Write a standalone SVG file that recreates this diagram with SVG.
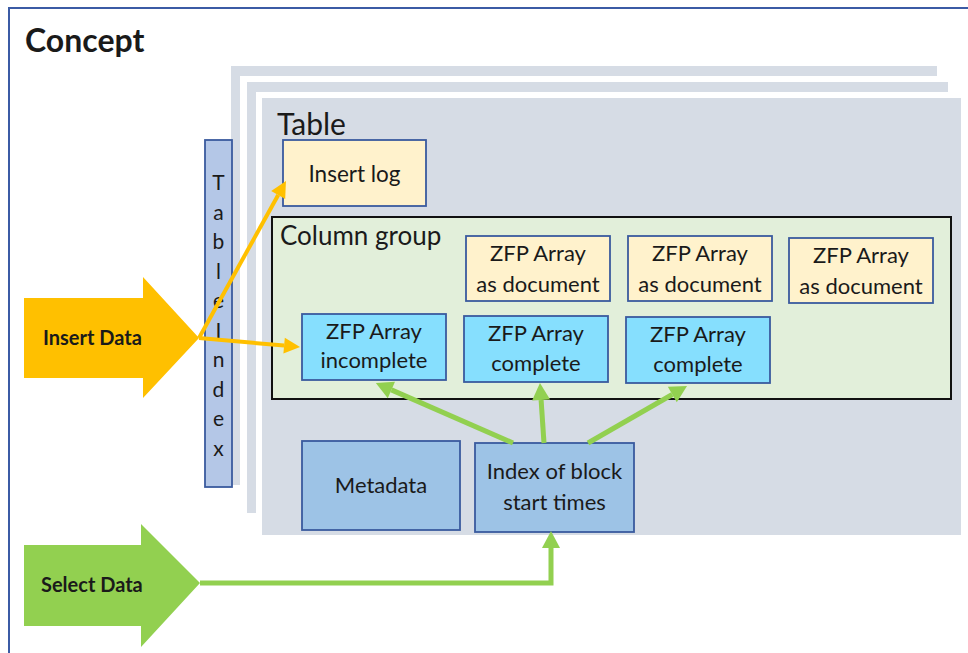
<svg xmlns="http://www.w3.org/2000/svg" width="968" height="653" viewBox="0 0 968 653">
<style>
  text { font-family: Lato, "Liberation Sans", sans-serif; fill: #1a1a1a; }
  .t22 { font-size: 22px; }
  .mid { text-anchor: middle; }
  .box { stroke: #3A5A9E; stroke-width: 1.8; }
  .yel { fill: #FFF2CC; }
  .cyan { fill: #86DFFE; }
  .blu { fill: #9DC3E6; }
  .layer { fill: #D6DCE5; }
  .orange { stroke: #FFC000; stroke-width: 4; fill: none; }
  .green { stroke: #92D050; stroke-width: 5; fill: none; }
</style>
<defs>
  <marker id="ao" markerUnits="userSpaceOnUse" markerWidth="16" markerHeight="16" refX="0" refY="8" orient="auto" overflow="visible">
    <path d="M0,0 L16,8 L0,16 z" fill="#FFC000"/>
  </marker>
  <marker id="ag" markerUnits="userSpaceOnUse" markerWidth="17" markerHeight="18" refX="0" refY="9" orient="auto" overflow="visible">
    <path d="M0,0 L17,9 L0,18 z" fill="#92D050"/>
  </marker>
</defs>
<rect width="968" height="653" fill="#FFFFFF"/>
<rect x="9" y="8" width="975" height="665" fill="none" stroke="#3B5BA5" stroke-width="2"/>
<text x="25" y="52" font-size="32" font-weight="bold">Concept</text>

<g id="table-stack">
  <rect class="layer" x="231" y="66" width="706" height="419"/>
  <rect x="240" y="76" width="720" height="445" fill="#FFFFFF"/>
  <rect class="layer" x="247" y="82" width="701" height="431"/>
  <rect x="256" y="92" width="710" height="450" fill="#FFFFFF"/>
  <rect class="layer" x="262" y="98" width="699" height="437"/>
  <text x="277" y="135" font-size="30">Table</text>
</g>

<g id="table-index">
  <rect x="205" y="140" width="27" height="347" fill="#B4C7E7" class="box"/>
  <text class="mid" font-size="21" x="218.5">
    <tspan x="218.5" y="190">T</tspan><tspan x="218.5" y="219.5">a</tspan><tspan x="218.5" y="249">b</tspan><tspan x="218.5" y="278.5">l</tspan><tspan x="218.5" y="308">e</tspan><tspan x="218.5" y="337.5">I</tspan><tspan x="218.5" y="367">n</tspan><tspan x="218.5" y="396.5">d</tspan><tspan x="218.5" y="426">e</tspan><tspan x="218.5" y="455.5">x</tspan>
  </text>
</g>

<g id="insert-log">
  <rect x="283" y="140" width="143" height="66" class="box yel"/>
  <text class="mid" font-size="22.5" x="354.5" y="182">Insert log</text>
</g>

<g id="column-group">
  <rect x="272" y="217" width="679" height="182" fill="#E2EFDA" stroke="#111111" stroke-width="2"/>
  <text x="280" y="245" font-size="26">Column group</text>
</g>

<g id="zfp-doc-1">
  <rect x="466" y="236" width="144" height="65" class="box yel"/>
  <text class="t22 mid" x="538" y="261">ZFP Array</text>
  <text class="t22 mid" x="538" y="292">as document</text>
</g>
<g id="zfp-doc-2">
  <rect x="628" y="236" width="144" height="65" class="box yel"/>
  <text class="t22 mid" x="700" y="261">ZFP Array</text>
  <text class="t22 mid" x="700" y="292">as document</text>
</g>
<g id="zfp-doc-3">
  <rect x="789" y="238" width="144" height="65" class="box yel"/>
  <text class="t22 mid" x="861" y="263">ZFP Array</text>
  <text class="t22 mid" x="861" y="294">as document</text>
</g>

<g id="zfp-incomplete">
  <rect x="302" y="314" width="144" height="66" class="box cyan"/>
  <text class="t22 mid" x="374" y="339">ZFP Array</text>
  <text class="t22 mid" x="374" y="368">incomplete</text>
</g>
<g id="zfp-complete-1">
  <rect x="464" y="316" width="144" height="66" class="box cyan"/>
  <text class="t22 mid" x="536" y="341">ZFP Array</text>
  <text class="t22 mid" x="536" y="371">complete</text>
</g>
<g id="zfp-complete-2">
  <rect x="626" y="317" width="144" height="66" class="box cyan"/>
  <text class="t22 mid" x="698" y="342">ZFP Array</text>
  <text class="t22 mid" x="698" y="372">complete</text>
</g>

<g id="metadata">
  <rect x="302" y="441" width="158" height="89" class="box blu"/>
  <text class="t22 mid" x="381" y="493">Metadata</text>
</g>
<g id="index-block">
  <rect x="475" y="443" width="159" height="89" class="box blu"/>
  <text class="t22 mid" x="554.5" y="479">Index of block</text>
  <text class="t22 mid" x="554.5" y="510">start times</text>
</g>

<g id="insert-data">
  <polygon points="24,298 143,298 143,277 199,338 143,398 143,378 24,378" fill="#FFC000"/>
  <text x="43" y="345" font-size="20" font-weight="bold">Insert Data</text>
</g>
<g id="select-data">
  <polygon points="24,545 141,545 141,524 200,583 141,647 141,626 24,626" fill="#92D050"/>
  <text x="41" y="592" font-size="20" font-weight="bold">Select Data</text>
</g>

<g id="connectors">
  <path class="orange" d="M199,338 L278.2,195" marker-end="url(#ao)"/>
  <path class="orange" d="M199,338 L284.1,345.6" marker-end="url(#ao)"/>
  <path class="green" d="M513,443 L391.4,389.9" marker-end="url(#ag)"/>
  <path class="green" d="M544,443 L541.1,400" marker-end="url(#ag)"/>
  <path class="green" d="M588,443 L672.3,394.5" marker-end="url(#ag)"/>
  <path class="green" stroke-width="4" d="M200,583 L551,583 L551,548" marker-end="url(#ag)"/>
</g>
</svg>
